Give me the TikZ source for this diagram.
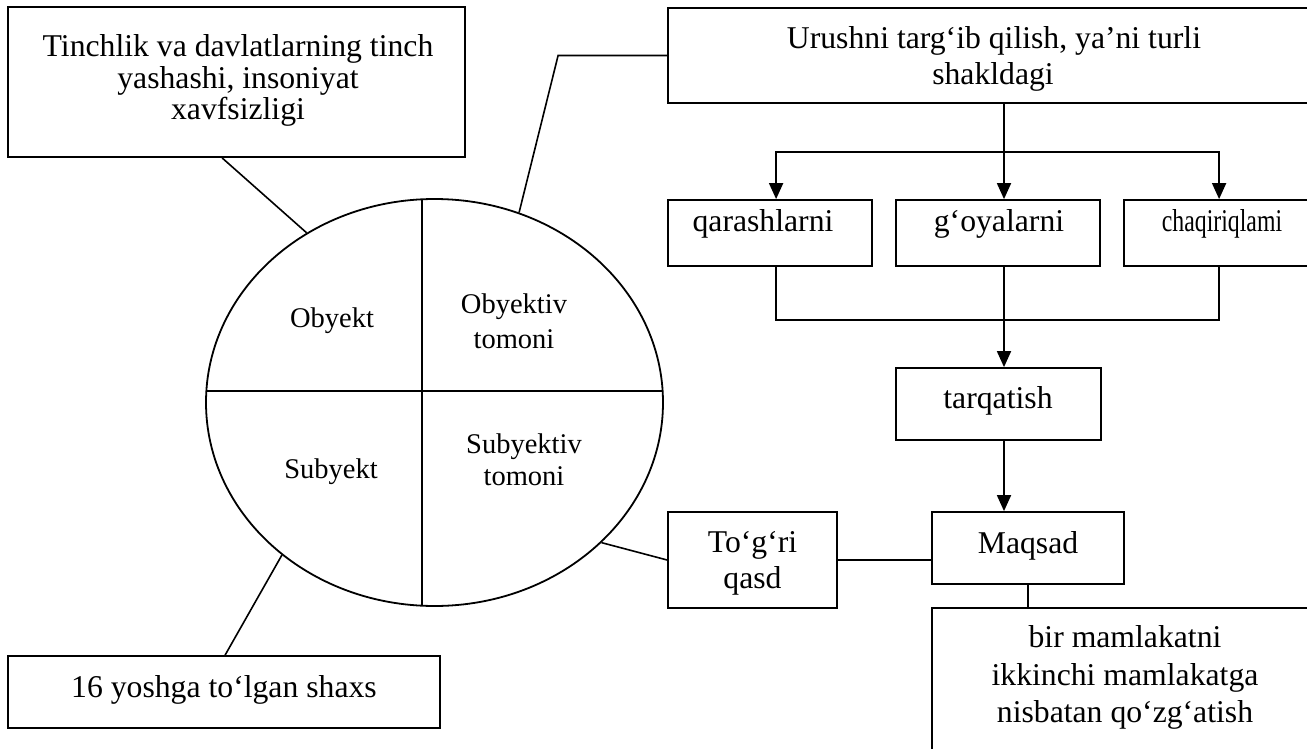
\documentclass[tikz,border=0pt]{standalone}
\usepackage{fontspec}
\setmainfont{Liberation Serif}
\usetikzlibrary{arrows.meta,shapes.geometric,calc}
\tikzset{
  box/.style={draw, line width=1.8pt, rectangle, inner sep=0pt},
  lbl/.style={anchor=base, inner sep=0pt, font=\fontsize{31.7}{36}\selectfont},
  elbl/.style={anchor=base, inner sep=0pt, font=\fontsize{28.5}{33}\selectfont},
  conn/.style={line width=1.6pt},
  arr/.style={line width=1.8pt, -{Triangle[length=16pt,width=14pt]}}
}
\begin{document}
\begin{tikzpicture}[x=1pt,y=-1pt]
\useasboundingbox (0,0) rectangle (1307,749);
\clip (0,0) rectangle (1307,749);
\fill[white] (0,0) rectangle (1307,749);

% boxes
\node[box, minimum width=457pt, minimum height=150pt] (tinch) at (236.5,82) {};
\node[box, minimum width=650pt, minimum height=95pt] (urush) at (993,55.5) {};
\node[box, minimum width=204pt, minimum height=66pt] (qar) at (770,233) {};
\node[box, minimum width=204pt, minimum height=66pt] (goy) at (998,233) {};
\node[box, minimum width=202pt, minimum height=66pt] (chaq) at (1225,233) {};
\node[box, minimum width=205pt, minimum height=72pt] (tarq) at (998.5,404) {};
\node[box, minimum width=192pt, minimum height=72pt] (maqs) at (1028,548) {};
\node[box, minimum width=169pt, minimum height=96pt] (togri) at (752.5,560) {};
\node[box, minimum width=386pt, minimum height=192pt] (bir) at (1125,704) {};
\node[box, minimum width=432pt, minimum height=72pt] (yosh) at (224,692) {};

% ellipse
\node[draw, line width=1.8pt, ellipse, inner sep=0pt, minimum width=457pt, minimum height=407pt] (ell) at (434.5,402.5) {};
\draw[conn] (422,199.3) -- (422,605.7);
\draw[conn] (206.4,391) -- (662.6,391);

% texts
\node[lbl] (t1) at (238,57) {Tinchlik va davlatlarning tinch};
\node[lbl] (t2) at (238,89) {yashashi, insoniyat};
\node[lbl] (t3) at (238,120) {xavfsizligi};
\node[lbl] (u1) at (994,49) {Urushni targ‘ib qilish, ya’ni turli};
\node[lbl] (u2) at (993,85) {shakldagi};
\node[lbl] (qt) at (763,231) {qarashlarni};
\node[lbl] (gt) at (999,231) {g‘oyalarni};
\node[lbl] (ct) at (1222,231) {\scalebox{0.75}[1]{chaqiriqlami}};
\node[lbl] (tt) at (998,408) {tarqatish};
\node[lbl] (mt) at (1028,553) {Maqsad};
\node[lbl] (g1) at (752.5,552) {To‘g‘ri};
\node[lbl] (g2) at (752.5,588) {qasd};
\node[lbl] (b1) at (1125,647) {bir mamlakatni};
\node[lbl] (b2) at (1125,685) {ikkinchi mamlakatga};
\node[lbl] (b3) at (1125,722) {nisbatan qo‘zg‘atish};
\node[lbl] (yt) at (224,697) {16 yoshga to‘lgan shaxs};
\node[elbl] (e1) at (332,327) {Obyekt};
\node[elbl] (e2) at (514,313) {Obyektiv};
\node[elbl] (e3) at (514,348) {tomoni};
\node[elbl] (e4) at (331,478) {Subyekt};
\node[elbl] (e5) at (524,453) {Subyektiv};
\node[elbl] (e6) at (524,485) {tomoni};

% connectors
\draw[conn] ($(tinch.south west)+(215,0)$) -- (ell.127);
\draw[conn] (urush.west) -- ++(-109,0) -- (ell.66);
\coordinate (br) at (1004,152);
\draw[conn, line width=1.8pt] (urush.south -| br) -- (br);
\draw[arr] (br) -| ($(qar.north west)+(109,0)$);
\draw[arr] (br) -- (goy.north -| br);
\draw[arr] (br) -| ($(chaq.north west)+(96,0)$);
\coordinate (jn) at (1004,320);
\draw[conn] ($(qar.south west)+(109,0)$) |- (jn);
\draw[conn] ($(chaq.south west)+(96,0)$) |- (jn);
\draw[arr] (goy.south -| jn) -- (tarq.north -| jn);
\draw[arr] (tarq.south -| jn) -- (maqs.north -| jn);
\draw[conn] (togri.east) -- (maqs.west |- togri.east);
\draw[conn] (maqs.south) -- (bir.north -| maqs.south);
\draw[conn] (ell.-40.3) -- (togri.west);
\draw[conn] (ell.225.4) -- ($(yosh.north west)+(218,0)$);
\end{tikzpicture}
\end{document}
